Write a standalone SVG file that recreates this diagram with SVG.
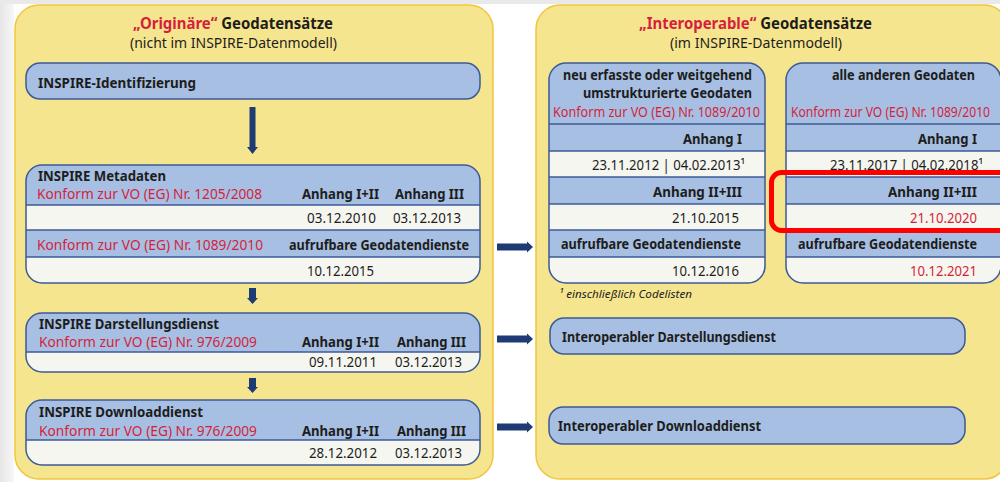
<svg xmlns="http://www.w3.org/2000/svg" width="1000" height="482" viewBox="0 0 1000 482">
  <style>
    text { font-family: "Noto Sans", "Open Sans", "Liberation Sans", sans-serif; fill: #1d1d1b; }
    .title { font-size: 16.5px; font-weight: 700; }
    .sub { font-size: 14px; font-weight: 400; }
    .b { font-size: 14px; font-weight: 700; }
    .r { font-size: 14px; font-weight: 400; fill: #d51f3c; }
    .d { font-size: 14px; font-weight: 400; }
    .red { fill: #d51f3c; }
    .note { font-size: 11.5px; font-style: italic; }
    .panel { fill: #f6e58f; stroke: #f2c53f; stroke-width: 1.5; }
    .cell { fill: #f6f6f1; }
    .head { fill: #a7bfe3; }
    .frame { fill: none; stroke: #3c5a96; stroke-width: 1.5; }
    .sep { stroke: #3c5a96; stroke-width: 1.5; }
    .arrow { fill: #1f3b73; }
    .mark { fill: none; stroke: #ff0000; stroke-width: 5; }
  </style>
  <defs>
    <linearGradient id="edge" x1="0" y1="0" x2="1" y2="0">
      <stop offset="0" stop-color="#e6e6e6"/>
      <stop offset="1" stop-color="#f7f7f7"/>
    </linearGradient>
    <clipPath id="clipMeta"><rect x="26" y="165" width="454" height="118" rx="16"/></clipPath>
    <clipPath id="clipDar"><rect x="26" y="313" width="454" height="59" rx="16"/></clipPath>
    <clipPath id="clipDl"><rect x="26" y="400" width="454" height="65" rx="16"/></clipPath>
    <clipPath id="clipNeu"><rect x="549" y="63" width="216" height="220" rx="17"/></clipPath>
    <clipPath id="clipAlle"><rect x="786" y="63" width="215" height="220" rx="17"/></clipPath>
  </defs>

  <!-- page background -->
  <rect width="1000" height="482" fill="#ffffff"/>
  <rect x="0" y="0" width="14" height="482" fill="url(#edge)"/>
  <rect x="0" y="0" width="1000" height="4" fill="#e9e9e9"/>

  <!-- left panel: original data sets -->
  <g id="panel-originaer">
    <rect class="panel" x="15" y="5" width="478" height="474" rx="24"/>
    <text class="title" x="133" y="29" textLength="200" lengthAdjust="spacingAndGlyphs"><tspan class="red">„Originäre“</tspan> Geodatensätze</text>
    <text class="sub" x="130" y="48" textLength="207" lengthAdjust="spacingAndGlyphs">(nicht im INSPIRE-Datenmodell)</text>
  </g>

  <!-- right panel: interoperable data sets -->
  <g id="panel-interoperabel">
    <rect class="panel" x="536" y="5" width="472" height="474" rx="24"/>
    <text class="title" x="639" y="29" textLength="233" lengthAdjust="spacingAndGlyphs"><tspan class="red">„Interoperable“</tspan> Geodatensätze</text>
    <text class="sub" x="670" y="48" textLength="172" lengthAdjust="spacingAndGlyphs">(im INSPIRE-Datenmodell)</text>
    <text class="note" x="559" y="298" textLength="133" lengthAdjust="spacingAndGlyphs">¹ einschließlich Codelisten</text>
  </g>

  <g id="identifizierung">
    <rect class="head" x="26" y="63" width="454" height="36" rx="14"/>
    <rect class="frame" x="26" y="63" width="454" height="36" rx="14"/>
    <text class="b" x="38" y="88" textLength="158" lengthAdjust="spacingAndGlyphs">INSPIRE-Identifizierung</text>
  </g>

  <g id="metadaten">
    <rect class="cell" x="26" y="165" width="454" height="118" rx="16"/>
    <g clip-path="url(#clipMeta)">
      <rect class="head" x="26" y="165" width="454" height="40"/>
      <rect class="head" x="26" y="230" width="454" height="27"/>
    </g>
    <line class="sep" x1="26" y1="205" x2="480" y2="205"/>
    <line class="sep" x1="26" y1="230" x2="480" y2="230"/>
    <line class="sep" x1="26" y1="257" x2="480" y2="257"/>
    <rect class="frame" x="26" y="165" width="454" height="118" rx="16"/>
    <text class="b" x="38" y="181" textLength="128" lengthAdjust="spacingAndGlyphs">INSPIRE Metadaten</text>
    <text class="r" x="37" y="199" textLength="225" lengthAdjust="spacingAndGlyphs">Konform zur VO (EG) Nr. 1205/2008</text>
    <text class="b" x="302" y="199" textLength="77" lengthAdjust="spacingAndGlyphs">Anhang I+II</text>
    <text class="b" x="395" y="199" textLength="69" lengthAdjust="spacingAndGlyphs">Anhang III</text>
    <text class="d" x="307" y="223" textLength="69" lengthAdjust="spacingAndGlyphs">03.12.2010</text>
    <text class="d" x="393" y="223" textLength="68" lengthAdjust="spacingAndGlyphs">03.12.2013</text>
    <text class="r" x="37" y="250" textLength="226" lengthAdjust="spacingAndGlyphs">Konform zur VO (EG) Nr. 1089/2010</text>
    <text class="b" x="289" y="250" textLength="180" lengthAdjust="spacingAndGlyphs">aufrufbare Geodatendienste</text>
    <text class="d" x="307" y="276" textLength="67" lengthAdjust="spacingAndGlyphs">10.12.2015</text>
  </g>

  <g id="darstellungsdienst">
    <rect class="cell" x="26" y="313" width="454" height="59" rx="16"/>
    <g clip-path="url(#clipDar)">
      <rect class="head" x="26" y="313" width="454" height="39"/>
    </g>
    <line class="sep" x1="26" y1="352" x2="480" y2="352"/>
    <rect class="frame" x="26" y="313" width="454" height="59" rx="16"/>
    <text class="b" x="39" y="329" textLength="180" lengthAdjust="spacingAndGlyphs">INSPIRE Darstellungsdienst</text>
    <text class="r" x="39" y="347" textLength="218" lengthAdjust="spacingAndGlyphs">Konform zur VO (EG) Nr. 976/2009</text>
    <text class="b" x="302" y="347" textLength="77" lengthAdjust="spacingAndGlyphs">Anhang I+II</text>
    <text class="b" x="397" y="347" textLength="69" lengthAdjust="spacingAndGlyphs">Anhang III</text>
    <text class="d" x="309" y="367" textLength="68" lengthAdjust="spacingAndGlyphs">09.11.2011</text>
    <text class="d" x="395" y="367" textLength="67" lengthAdjust="spacingAndGlyphs">03.12.2013</text>
  </g>

  <g id="downloaddienst">
    <rect class="cell" x="26" y="400" width="454" height="65" rx="16"/>
    <g clip-path="url(#clipDl)">
      <rect class="head" x="26" y="400" width="454" height="40"/>
    </g>
    <line class="sep" x1="26" y1="440" x2="480" y2="440"/>
    <rect class="frame" x="26" y="400" width="454" height="65" rx="16"/>
    <text class="b" x="39" y="417" textLength="164" lengthAdjust="spacingAndGlyphs">INSPIRE Downloaddienst</text>
    <text class="r" x="39" y="436" textLength="218" lengthAdjust="spacingAndGlyphs">Konform zur VO (EG) Nr. 976/2009</text>
    <text class="b" x="302" y="436" textLength="77" lengthAdjust="spacingAndGlyphs">Anhang I+II</text>
    <text class="b" x="397" y="436" textLength="69" lengthAdjust="spacingAndGlyphs">Anhang III</text>
    <text class="d" x="309" y="458" textLength="68" lengthAdjust="spacingAndGlyphs">28.12.2012</text>
    <text class="d" x="395" y="458" textLength="67" lengthAdjust="spacingAndGlyphs">03.12.2013</text>
  </g>

  <g id="neu-erfasst">
    <rect class="cell" x="549" y="63" width="216" height="220" rx="17"/>
    <g clip-path="url(#clipNeu)">
      <rect class="head" x="549" y="63" width="216" height="88"/>
      <rect class="head" x="549" y="177" width="216" height="27"/>
      <rect class="head" x="549" y="230" width="216" height="27"/>
    </g>
    <line class="sep" x1="549" y1="124" x2="765" y2="124"/>
    <line class="sep" x1="549" y1="151" x2="765" y2="151"/>
    <line class="sep" x1="549" y1="177" x2="765" y2="177"/>
    <line class="sep" x1="549" y1="204" x2="765" y2="204"/>
    <line class="sep" x1="549" y1="230" x2="765" y2="230"/>
    <line class="sep" x1="549" y1="257" x2="765" y2="257"/>
    <rect class="frame" x="549" y="63" width="216" height="220" rx="17"/>
    <text class="b" x="563" y="80" textLength="189" lengthAdjust="spacingAndGlyphs">neu erfasste oder weitgehend</text>
    <text class="b" x="583" y="98" textLength="169" lengthAdjust="spacingAndGlyphs">umstrukturierte Geodaten</text>
    <text class="r" x="553" y="117" textLength="207" lengthAdjust="spacingAndGlyphs">Konform zur VO (EG) Nr. 1089/2010</text>
    <text class="b" x="683" y="144" textLength="59" lengthAdjust="spacingAndGlyphs">Anhang I</text>
    <text class="d" x="592" y="170" textLength="153" lengthAdjust="spacingAndGlyphs">23.11.2012 | 04.02.2013¹</text>
    <text class="b" x="653" y="197" textLength="89" lengthAdjust="spacingAndGlyphs">Anhang II+III</text>
    <text class="d" x="672" y="223" textLength="67" lengthAdjust="spacingAndGlyphs">21.10.2015</text>
    <text class="b" x="561" y="249" textLength="180" lengthAdjust="spacingAndGlyphs">aufrufbare Geodatendienste</text>
    <text class="d" x="672" y="276" textLength="67" lengthAdjust="spacingAndGlyphs">10.12.2016</text>
  </g>

  <g id="alle-anderen">
    <rect class="cell" x="786" y="63" width="215" height="220" rx="17"/>
    <g clip-path="url(#clipAlle)">
      <rect class="head" x="786" y="63" width="215" height="88"/>
      <rect class="head" x="786" y="177" width="215" height="27"/>
      <rect class="head" x="786" y="230" width="215" height="27"/>
    </g>
    <line class="sep" x1="786" y1="124" x2="1001" y2="124"/>
    <line class="sep" x1="786" y1="151" x2="1001" y2="151"/>
    <line class="sep" x1="786" y1="177" x2="1001" y2="177"/>
    <line class="sep" x1="786" y1="204" x2="1001" y2="204"/>
    <line class="sep" x1="786" y1="230" x2="1001" y2="230"/>
    <line class="sep" x1="786" y1="257" x2="1001" y2="257"/>
    <rect class="frame" x="786" y="63" width="215" height="220" rx="17"/>
    <text class="b" x="832" y="80" textLength="143" lengthAdjust="spacingAndGlyphs">alle anderen Geodaten</text>
    <text class="r" x="791" y="117" textLength="199" lengthAdjust="spacingAndGlyphs">Konform zur VO (EG) Nr. 1089/2010</text>
    <text class="b" x="918" y="144" textLength="59" lengthAdjust="spacingAndGlyphs">Anhang I</text>
    <text class="d" x="830" y="170" textLength="153" lengthAdjust="spacingAndGlyphs">23.11.2017 | 04.02.2018¹</text>
    <text class="b" x="888" y="197" textLength="89" lengthAdjust="spacingAndGlyphs">Anhang II+III</text>
    <text class="d red" x="910" y="223" textLength="67" lengthAdjust="spacingAndGlyphs">21.10.2020</text>
    <text class="b" x="798" y="249" textLength="179" lengthAdjust="spacingAndGlyphs">aufrufbare Geodatendienste</text>
    <text class="d red" x="910" y="276" textLength="67" lengthAdjust="spacingAndGlyphs">10.12.2021</text>
    <!-- highlight around Anhang II+III deadline -->
    <rect class="mark" x="771.5" y="172.5" width="240" height="58" rx="10"/>
  </g>

  <g id="interop-darstellungsdienst">
    <rect class="head" x="550" y="318" width="415" height="36" rx="14"/>
    <rect class="frame" x="550" y="318" width="415" height="36" rx="14"/>
    <text class="b" x="562" y="342" textLength="214" lengthAdjust="spacingAndGlyphs">Interoperabler Darstellungsdienst</text>
  </g>

  <g id="interop-downloaddienst">
    <rect class="head" x="549" y="407" width="416" height="37" rx="14"/>
    <rect class="frame" x="549" y="407" width="416" height="37" rx="14"/>
    <text class="b" x="558" y="431" textLength="203" lengthAdjust="spacingAndGlyphs">Interoperabler Downloaddienst</text>
  </g>

  <!-- connectors -->
  <g id="connectors">
    <polygon class="arrow" points="249.5,107 255.5,107 255.5,147 258,147 252.5,154 247,147 249.5,147"/>
    <polygon class="arrow" points="249,288 256,288 256,298 258,298 252.5,304 247,298 249,298"/>
    <polygon class="arrow" points="249,378 256,378 256,387 258,387 252.5,393 247,387 249,387"/>
    <polygon class="arrow" points="497,243.5 527,243.5 527,241.5 533,247 527,252.5 527,250.5 497,250.5"/>
    <polygon class="arrow" points="497,335.5 527,335.5 527,333.5 533,339 527,344.5 527,342.5 497,342.5"/>
    <polygon class="arrow" points="497,423.5 527,423.5 527,421.5 533,427 527,432.5 527,430.5 497,430.5"/>
  </g>
</svg>
